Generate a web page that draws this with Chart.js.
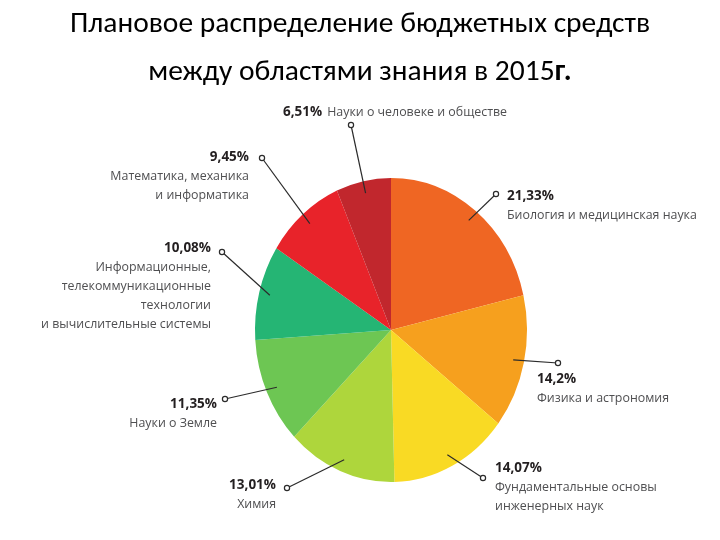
<!DOCTYPE html>
<html lang="ru">
<head>
<meta charset="UTF-8">
<title>Плановое распределение бюджетных средств</title>
<style>
    body {
        margin: 0;
        background: #fff;
        width: 720px;
        height: 540px;
        overflow: hidden;
        position: relative;
    }

    #chart {
        position: absolute;
        left: 0;
        top: 0;
    }

    .title {
        position: absolute;
        left: 0;
        width: 720px;
        text-align: center;
        font-family: Carlito, 'Liberation Sans Narrow', sans-serif;
        font-size: 29.5px;
        color: #000;
        line-height: 1;
        white-space: nowrap;
    }
</style>
</head>
<body>
<canvas id="chart" width="720" height="540"></canvas>
<div class="title" style="top:8px">Плановое распределение бюджетных средств</div>
<div class="title" style="top:56px">между областями знания в 2015<b>г.</b></div>

<script src="https://cdn.jsdelivr.net/npm/chart.js"></script>
<script>
    // данные (по часовой стрелке от 12 часов)
    const categories = [
        ['Биология и медицинская наука'],
        ['Физика и астрономия'],
        ['Фундаментальные основы', 'инженерных наук'],
        ['Химия'],
        ['Науки о Земле'],
        ['Информационные,', 'телекоммуникационные', 'технологии', 'и вычислительные системы'],
        ['Математика, механика', 'и информатика'],
        ['Науки о человеке и обществе']
    ];
    const shares = [21.33, 14.2, 14.07, 13.01, 11.35, 10.08, 9.45, 6.51];
    const colors = ['#ef6623', '#f6a01e', '#f9da24', '#aed63c', '#6dc653', '#25b574', '#e8232a', '#c1272d'];

    // расположение подписей: конец выноски, точка текста, выравнивание
    const callouts = [
        { end: [496, 194], at: [507, 196], align: 'left' },
        { end: [558, 363], at: [537, 379], align: 'left' },
        { end: [483, 478], at: [495, 468], align: 'left' },
        { end: [287, 488], at: [276, 485], align: 'right' },
        { end: [225, 399], at: [217, 404], align: 'right' },
        { end: [222, 252], at: [211, 248], align: 'right' },
        { end: [262, 158], at: [249, 157], align: 'right' },
        { end: [351, 125], at: [283, 112], align: 'left', inline: true }
    ];

    const stretch = 152 / 136; // круг в оригинале слегка вытянут по вертикали

    const ellipsePlugin = {
        id: 'ellipse',
        beforeDatasetsDraw(chart) {
            const a = chart.getDatasetMeta(0).data[0];
            const ctx = chart.ctx;
            ctx.save();
            ctx.translate(a.x, a.y);
            ctx.scale(1, stretch);
            ctx.translate(-a.x, -a.y);
        },
        afterDatasetsDraw(chart) {
            chart.ctx.restore();
        }
    };

    const pctFont = 'bold 13.5px "Open Sans", sans-serif';
    const nameFont = '12.4px "Open Sans", sans-serif';

    const calloutPlugin = {
        id: 'callouts',
        afterDraw(chart) {
            const ctx = chart.ctx;
            const arcs = chart.getDatasetMeta(0).data;
            ctx.save();
            arcs.forEach((arc, i) => {
                const c = callouts[i];
                const mid = (arc.startAngle + arc.endAngle) / 2;
                const r = arc.outerRadius * 0.92;
                const sx = arc.x + Math.cos(mid) * r;
                const sy = arc.y + Math.sin(mid) * r * stretch;

                // выноска
                ctx.strokeStyle = '#2b2b2b';
                ctx.lineWidth = 1.2;
                ctx.beginPath();
                ctx.moveTo(sx, sy);
                ctx.lineTo(c.end[0], c.end[1]);
                ctx.stroke();
                ctx.beginPath();
                ctx.arc(c.end[0], c.end[1], 2.6, 0, Math.PI * 2);
                ctx.fillStyle = '#fff';
                ctx.fill();
                ctx.stroke();

                const pct = String(shares[i]).replace('.', ',') + '%';
                ctx.textBaseline = 'middle';
                ctx.textAlign = c.align;
                ctx.fillStyle = '#231f20';
                ctx.font = pctFont;
                ctx.fillText(pct, c.at[0], c.at[1]);
                const pw = ctx.measureText(pct).width;

                ctx.fillStyle = '#4f4f51';
                ctx.font = nameFont;
                if (c.inline) {
                    ctx.fillText(categories[i][0], c.at[0] + pw + 5, c.at[1]);
                } else {
                    categories[i].forEach((line, k) => {
                        ctx.fillText(line, c.at[0], c.at[1] + 19 * (k + 1));
                    });
                }
            });
            ctx.restore();
        }
    };

    new Chart(document.getElementById('chart').getContext('2d'), {
        type: 'pie',
        data: {
            labels: categories.map(c => c.join(' ')),
            datasets: [{
                data: shares,
                backgroundColor: colors,
                borderWidth: 0
            }]
        },
        options: {
            responsive: false,
            animation: false,
            layout: {
                padding: { left: 255, right: 193, top: 194, bottom: 74 }
            },
            plugins: {
                legend: { display: false },
                tooltip: { enabled: false }
            }
        },
        plugins: [ellipsePlugin, calloutPlugin]
    });
</script>
</body>
</html>
